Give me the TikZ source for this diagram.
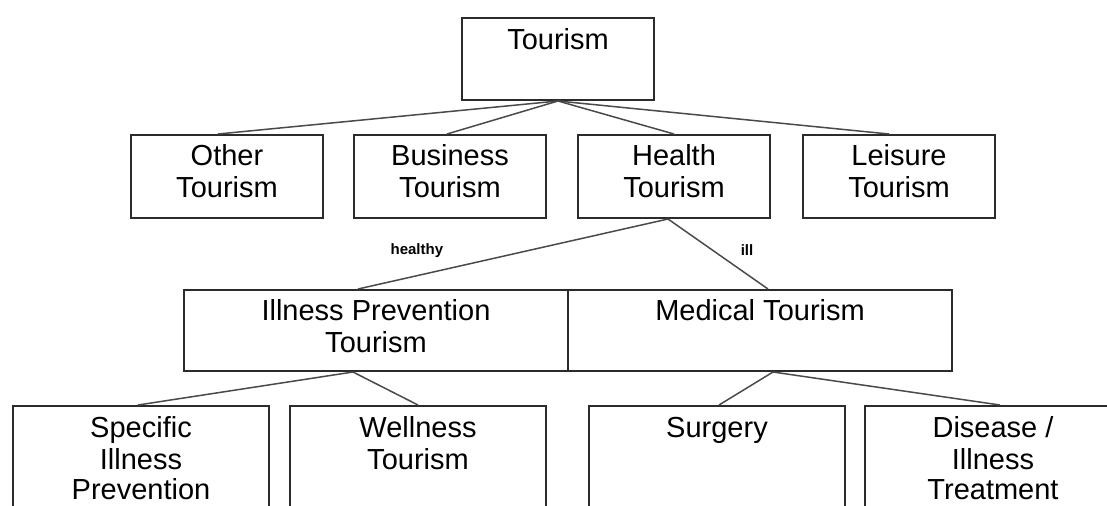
\documentclass[tikz,border=0pt]{standalone}
\usepackage{fontspec}
\setmainfont{Liberation Sans}
\definecolor{boxline}{HTML}{2B2B2B}
\definecolor{linkline}{HTML}{4A4A4A}

\begin{document}
\begin{tikzpicture}[x=0.5pt, y=-0.5pt,
                    main node/.style n args={3}{draw=boxline, line width=1pt, inner sep=0pt,
                      anchor=north west, font=\fontsize{14.5}{15}\selectfont,
                      execute at begin node={\begin{minipage}[t][#2][t]{#1}\centering\vspace*{#3}\strut},
                      execute at end node={\end{minipage}}},
                    link label/.style={font=\fontsize{7.5}{9}\selectfont\bfseries, inner sep=0pt}]

  \useasboundingbox (0,0) rectangle (1107,505);
  \clip (0,0) rectangle (1107,505);

  % top level
  \node[main node={96pt}{41pt}{5.3pt}] (1) at (461,17) {Tourism};

  % second level
  \node[main node={96pt}{41.5pt}{4.9pt}] (2) at (130,134) {Other\\Tourism};
  \node[main node={96pt}{41.5pt}{4.9pt}] (3) at (353,134) {Business\\Tourism};
  \node[main node={96pt}{41.5pt}{4.9pt}] (4) at (577,134) {Health\\Tourism};
  \node[main node={96pt}{41.5pt}{4.9pt}] (5) at (802,134) {Leisure\\Tourism};

  % health tourism split
  \node[main node={192pt}{40.5pt}{4.9pt}] (6) at (183,289) {Illness Prevention\\Tourism};
  \node[main node={192pt}{40.5pt}{4.9pt}] (7) at (567,289) {Medical Tourism};

  % bottom level, runs off the page
  \node[main node={128pt}{70pt}{5.3pt}] (8) at (12,405) {Specific\\Illness\\Prevention};
  \node[main node={128pt}{70pt}{5.3pt}] (9) at (289,405) {Wellness\\Tourism};
  \node[main node={128pt}{70pt}{5.3pt}] (10) at (588,405) {Surgery};
  \node[main node={128pt}{70pt}{5.3pt}] (11) at (864,405) {Disease /\\Illness\\Treatment};

  \path[draw=linkline, line width=0.75pt]
    (1.south) edge ([xshift=-4.5pt]2.north)
              edge ([xshift=-1.5pt]3.north)
              edge (4.north)
              edge ([xshift=-5pt]5.north)
    ([xshift=-3pt]4.south) edge node[link label, pos=0.81, yshift=12.75pt] {healthy} ([xshift=-9pt]6.north)
                           edge node[link label, pos=0.79, yshift=12pt] {ill} ([xshift=4pt]7.north)
    ([xshift=-11.5pt]6.south) edge ([xshift=-1.5pt]8.north)
                              edge (9.north)
    ([xshift=6.5pt]7.south) edge ([xshift=1pt]10.north)
                            edge ([xshift=3.5pt]11.north);
\end{tikzpicture}
\end{document}
